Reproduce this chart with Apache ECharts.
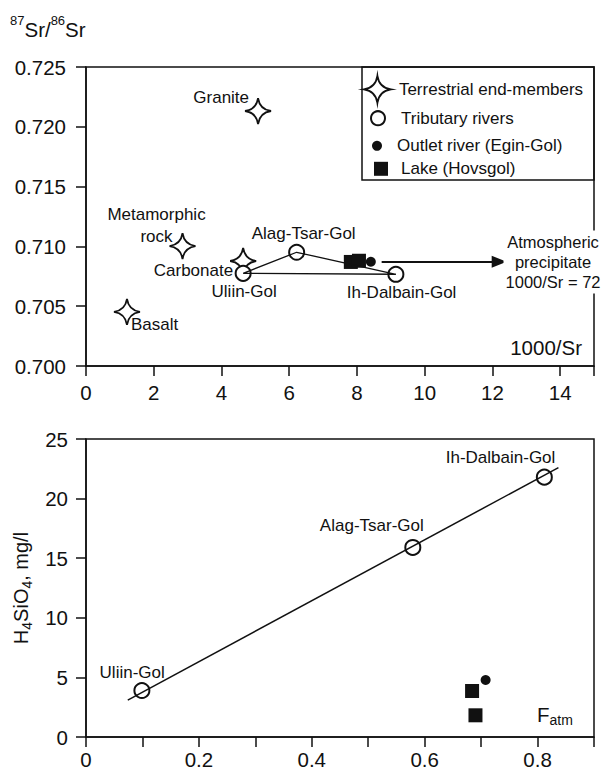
<!DOCTYPE html>
<html><head><meta charset="utf-8">
<script src="https://cdn.jsdelivr.net/npm/echarts@6/dist/echarts.min.js"></script>
<style>html,body{margin:0;padding:0;background:#fff}#c{width:608px;height:774px}</style>
</head><body><div id="c"></div>
<script>
// ---------- Top panel: 87Sr/86Sr vs 1000/Sr ----------
const endMemberNames = ['Granite', 'Metamorphic\nrock', 'Carbonate', 'Basalt'];
const endMemberX = [5.08, 2.85, 4.64, 1.21];
const endMemberY = [0.72132, 0.71003, 0.70878, 0.70452];

const riverNames = ['Uliin-Gol', 'Alag-Tsar-Gol', 'Ih-Dalbain-Gol'];
const riverSrX = [4.64, 6.22, 9.15];
const riverSrY = [0.70775, 0.70951, 0.70767];

const lakeSrX = [7.82, 8.06];
const lakeSrY = [0.7087, 0.7088];
const outletSrX = [8.41];
const outletSrY = [0.70872];

const arrowX = [8.73, 12.2];
const arrowY = [0.70872, 0.70872];

// ---------- Bottom panel: H4SiO4 vs F_atm ----------
const riverFatm = [0.099, 0.579, 0.812];
const riverSi = [3.9, 15.9, 21.8];
const lakeFatm = [0.684, 0.690];
const lakeSi = [3.86, 1.82];
const outletFatm = [0.708];
const outletSi = [4.78];
const fitFatm = [0.074, 0.837];
const fitSi = [3.1, 22.6];

// ---------- axes ----------
const srAxisMin = 0.700, srAxisMax = 0.725, srAxisStep = 0.005;
const invSrMin = 0, invSrMax = 15, invSrStep = 2;
const siMin = 0, siMax = 25, siStep = 5;
const fatmMin = 0, fatmMax = 0.9, fatmStep = 0.1;

const legendNames = ['Terrestrial end-members', 'Tributary rivers', 'Outlet river (Egin-Gol)', 'Lake (Hovsgol)'];

// ---------- styling / label placement (not data) ----------
const INK = '#111';
const TXT = '#111';
const FONT = '"Liberation Sans", Arial, Helvetica, sans-serif';
const STAR = 'path://M0,-10 Q1.3,-1.3 10,0 Q1.3,1.3 0,10 Q-1.3,1.3 -10,0 Q-1.3,-1.3 0,-10 Z';

const topLabelSpots = {
  'Granite': {align: 'right', offset: [-9, -14]},
  'Metamorphic\nrock': {align: 'center', offset: [-26, -21]},
  'Carbonate': {align: 'right', offset: [-10, 10]},
  'Basalt': {align: 'left', offset: [4, 13]},
  'Uliin-Gol': {align: 'center', offset: [1, 18.5]},
  'Alag-Tsar-Gol': {align: 'center', offset: [7, -19]},
  'Ih-Dalbain-Gol': {align: 'center', offset: [5.7, 18.4]}
};
const bottomLabelSpots = {
  'Uliin-Gol': {align: 'center', offset: [-9.7, -18.4]},
  'Alag-Tsar-Gol': {align: 'center', offset: [-41, -22]},
  'Ih-Dalbain-Gol': {align: 'center', offset: [-43.8, -19.4]}
};

function zip(xs, ys) { return xs.map((x, i) => [x, ys[i]]); }
function labelled(names, xs, ys, spots) {
  return names.map((n, i) => ({
    name: n, value: [xs[i], ys[i]],
    label: {show: true, position: 'inside', align: spots[n].align, offset: spots[n].offset}
  }));
}

const labelBase = {show: true, position: 'inside', formatter: '{b}', fontSize: 17, color: TXT, fontFamily: FONT, lineHeight: 22, opacity: 1};
const starStyle = {color: '#fff', borderColor: INK, borderWidth: 1.8, opacity: 1};
const openStyle = {color: '#fff', borderColor: INK, borderWidth: 2, opacity: 1};
const fillStyle = {color: INK, borderWidth: 0, opacity: 1};

const axisLine = {show: true, onZero: false, lineStyle: {color: INK, width: 1.5}};
const axisTick = {show: true, inside: false, length: 10, lineStyle: {color: INK, width: 1.5}};
const tickFont = {fontSize: 20.5, color: TXT, fontFamily: FONT};

const tri = zip(riverSrX, riverSrY);
tri.push([riverSrX[0], riverSrY[0]]);

const chart = echarts.init(document.getElementById('c'), null, {renderer: 'svg'});
chart.setOption({
  animation: false,
  backgroundColor: '#fff',
  textStyle: {fontFamily: FONT},
  grid: [
    {left: 86, right: 14, top: 67, bottom: 408, show: true, borderColor: INK, borderWidth: 1.5, backgroundColor: 'transparent'},
    {left: 86, right: 14, top: 439, bottom: 37, show: true, borderColor: INK, borderWidth: 1.5, backgroundColor: 'transparent'}
  ],
  xAxis: [
    {gridIndex: 0, type: 'value', min: invSrMin, max: invSrMax, interval: invSrStep,
     axisLine, axisTick, splitLine: {show: false},
     axisLabel: Object.assign({margin: 16, formatter: v => (v % 2 === 0 && v < invSrMax) ? String(v) : ''}, tickFont)},
    {gridIndex: 1, type: 'value', min: fatmMin, max: fatmMax, interval: fatmStep,
     axisLine, axisTick, splitLine: {show: false},
     axisLabel: Object.assign({margin: 12, formatter: v => {
       const r = Math.round(v * 10);
       if (r % 2 !== 0 || r >= 9) return '';
       return r === 0 ? '0' : (r / 10).toFixed(1);
     }}, tickFont)}
  ],
  yAxis: [
    {gridIndex: 0, type: 'value', min: srAxisMin, max: srAxisMax, interval: srAxisStep,
     axisLine, axisTick, splitLine: {show: false},
     axisLabel: Object.assign({margin: 20, formatter: v => v.toFixed(3)}, tickFont)},
    {gridIndex: 1, type: 'value', min: siMin, max: siMax, interval: siStep,
     axisLine, axisTick, splitLine: {show: false},
     axisLabel: Object.assign({margin: 18}, tickFont),
     name: '{m|H}{s|4}{m|SiO}{s|4}{m|, mg/l}', nameLocation: 'middle', nameRotate: 90, nameGap: 50,
     nameTextStyle: {fontFamily: FONT, color: TXT,
       rich: {m: {fontSize: 20, color: TXT, fontFamily: FONT, lineHeight: 26, verticalAlign: 'middle'},
              s: {fontSize: 14, color: TXT, fontFamily: FONT, lineHeight: 26, verticalAlign: 'bottom'}}}}
  ],
  legend: [
    {data: [{name: legendNames[0], icon: STAR}], left: 363, top: 75, itemWidth: 27, itemHeight: 27, padding: 0,
     selectedMode: false, itemStyle: starStyle, textStyle: {fontSize: 17, color: TXT, fontFamily: FONT, padding: [0, 0, 0, 3]}},
    {data: [{name: legendNames[1], icon: 'circle'}], left: 370, top: 109.7, itemWidth: 14, itemHeight: 14, padding: 0,
     selectedMode: false, itemStyle: openStyle, textStyle: {fontSize: 17, color: TXT, fontFamily: FONT, padding: [0, 0, 0, 11]}},
    {data: [{name: legendNames[2], icon: 'circle'}], left: 372, top: 137.3, itemWidth: 10, itemHeight: 10, padding: 0,
     selectedMode: false, itemStyle: fillStyle, textStyle: {fontSize: 17, color: TXT, fontFamily: FONT, padding: [0, 0, 0, 10]}},
    {data: [{name: legendNames[3], icon: 'rect'}], left: 374, top: 160.3, itemWidth: 14, itemHeight: 14, padding: 0,
     selectedMode: false, itemStyle: fillStyle, textStyle: {fontSize: 17, color: TXT, fontFamily: FONT, padding: [0, 0, 0, 8]}}
  ],
  graphic: [
    {type: 'rect', z: 0, shape: {x: 362, y: 67, width: 232, height: 113}, style: {fill: 'transparent', stroke: INK, lineWidth: 1.5}},
    {type: 'text', x: 10, y: 27, style: {
      text: '{p|87}{m|Sr/}{p|86}{m|Sr}', verticalAlign: 'middle', align: 'left',
      rich: {p: {fontSize: 13, fill: TXT, fontFamily: FONT, lineHeight: 26, verticalAlign: 'top'},
             m: {fontSize: 20.5, fill: TXT, fontFamily: FONT, lineHeight: 26, verticalAlign: 'bottom'}}}},
    {type: 'text', x: 582, y: 347, style: {text: '1000/Sr', align: 'right', verticalAlign: 'middle', fontSize: 20.5, fill: TXT, fontFamily: FONT}},
    {type: 'text', x: 537, y: 714, style: {
      text: '{m|F}{s|atm}', align: 'left', verticalAlign: 'middle',
      rich: {m: {fontSize: 20.5, fill: TXT, fontFamily: FONT, lineHeight: 26, verticalAlign: 'middle'},
             s: {fontSize: 14, fill: TXT, fontFamily: FONT, lineHeight: 26, verticalAlign: 'bottom'}}}},
    {type: 'text', z: 100, x: 553, y: 262, style: {
      text: 'Atmospheric\nprecipitate\n1000/Sr = 72', align: 'center', verticalAlign: 'middle',
      fontSize: 16.5, lineHeight: 20.3, fill: TXT, fontFamily: FONT, backgroundColor: '#fff', padding: [1, 2]}}
  ],
  series: [
    // top panel
    {type: 'line', name: 'tributary-mixing', xAxisIndex: 0, yAxisIndex: 0, data: tri, symbol: 'none', silent: true,
     lineStyle: {color: INK, width: 1.3}},
    {type: 'scatter', name: legendNames[0], xAxisIndex: 0, yAxisIndex: 0, symbol: STAR, symbolSize: 26,
     itemStyle: starStyle, label: labelBase,
     data: labelled(endMemberNames, endMemberX, endMemberY, topLabelSpots)},
    {type: 'scatter', name: legendNames[3], xAxisIndex: 0, yAxisIndex: 0, symbol: 'rect', symbolSize: 14,
     itemStyle: fillStyle, data: zip(lakeSrX, lakeSrY)},
    {type: 'scatter', name: legendNames[2], xAxisIndex: 0, yAxisIndex: 0, symbol: 'circle', symbolSize: 10,
     itemStyle: fillStyle, data: zip(outletSrX, outletSrY),
     markLine: {silent: true, animation: false, symbol: ['none', 'triangle'], symbolSize: [12, 15],
       lineStyle: {color: INK, width: 2, type: 'solid', opacity: 1}, itemStyle: {color: INK, opacity: 1}, label: {show: false},
       data: [[{coord: [arrowX[0], arrowY[0]]}, {coord: [arrowX[1], arrowY[1]]}]]}},
    {type: 'scatter', name: legendNames[1], xAxisIndex: 0, yAxisIndex: 0, symbol: 'circle', symbolSize: 15,
     itemStyle: openStyle, label: labelBase,
     data: labelled(riverNames, riverSrX, riverSrY, topLabelSpots)},
    // bottom panel
    {type: 'line', name: 'regression', xAxisIndex: 1, yAxisIndex: 1, data: zip(fitFatm, fitSi), symbol: 'none', silent: true,
     lineStyle: {color: INK, width: 1.5}},
    {type: 'scatter', name: legendNames[1], xAxisIndex: 1, yAxisIndex: 1, symbol: 'circle', symbolSize: 15,
     itemStyle: openStyle, label: labelBase,
     data: labelled(riverNames, riverFatm, riverSi, bottomLabelSpots)},
    {type: 'scatter', name: legendNames[3], xAxisIndex: 1, yAxisIndex: 1, symbol: 'rect', symbolSize: 14,
     itemStyle: fillStyle, data: zip(lakeFatm, lakeSi)},
    {type: 'scatter', name: legendNames[2], xAxisIndex: 1, yAxisIndex: 1, symbol: 'circle', symbolSize: 10,
     itemStyle: fillStyle, data: zip(outletFatm, outletSi)}
  ]
});
</script>
</body></html>
